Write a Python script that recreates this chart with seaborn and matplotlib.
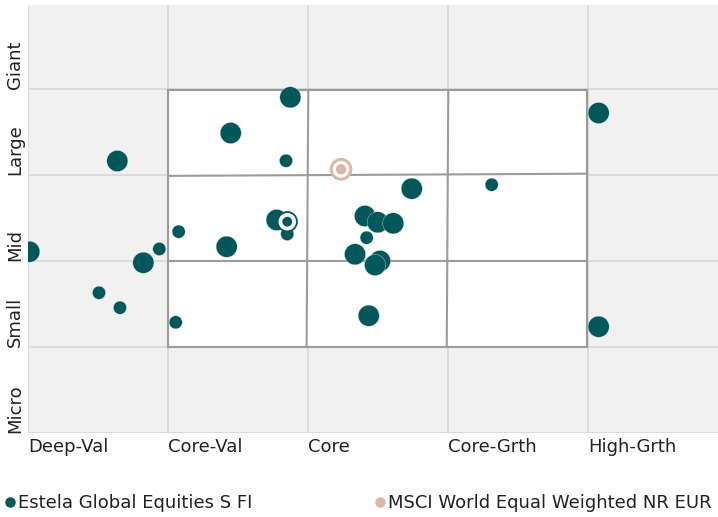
import matplotlib
matplotlib.use("Agg")
import matplotlib.pyplot as plt
from matplotlib.lines import Line2D
from matplotlib.patches import Polygon
import seaborn as sns
import pandas as pd

# ---- data ----
style_labels = ["Deep-Val", "Core-Val", "Core", "Core-Grth", "High-Grth"]
size_labels = ["Micro", "Small", "Mid", "Large", "Giant"]

holding_style = [1.874, 1.448, 1.843, 0.638, 1.776, 1.852, 1.076, 1.419, 0.938,
                 0.009, 0.824, 0.507, 0.657, 1.055, 4.076, 2.741, 3.312, 2.407,
                 2.498, 2.609, 2.419, 2.336, 2.514, 2.479, 2.434, 4.076]
holding_size = [3.903, 3.488, 3.166, 3.163, 2.477, 2.314, 2.341, 2.166, 2.140,
                2.108, 1.980, 1.631, 1.457, 1.287, 3.721, 2.841, 2.887, 2.523,
                2.450, 2.438, 2.271, 2.078, 2.000, 1.953, 1.364, 1.236]
holding_weight = [2, 2, 1, 2, 2, 1, 1, 2, 1,
                  2, 2, 1, 1, 1, 2, 2, 1, 2,
                  2, 2, 1, 2, 2, 2, 2, 2]

fund_name = "Estela Global Equities S FI"
bench_name = "MSCI World Equal Weighted NR EUR"
centroid_style, centroid_size = 1.852, 2.457
bench_style, bench_size = 2.236, 3.066

# style box boundaries (ownership zone grid)
box_v_top = [1.0, 2.002, 3.002, 3.995]
box_v_bottom = [1.0, 1.990, 2.991, 3.995]
box_h_left = [1.0, 2.0, 2.990, 3.990]
box_h_right = [1.0, 2.0, 3.015, 3.990]

# ---- style ----
TEAL = "#00585A"
PINK = "#D8B6A8"
sns.set_style("white")
plt.rcParams["font.family"] = ["DejaVu Sans"]
FS = 13

fig = plt.figure(figsize=(7.18, 5.17), dpi=100)
ax = fig.add_axes([28 / 718, 84 / 517, 690 / 718, 428 / 517])
ax.set_facecolor("#F1F1F1")
ax.set_xlim(0, 690 / 140)
ax.set_ylim(0, 428 / 86)
for sp in ax.spines.values():
    sp.set_visible(False)

ax.set_xticks(range(len(style_labels)))
ax.set_xticklabels(style_labels, ha="left")
ax.set_yticks(range(len(size_labels)))
ax.set_yticklabels(size_labels, rotation=90, va="bottom", ha="center")
ax.tick_params(axis="x", length=0, pad=3.5, labelsize=FS, labelcolor="#222222")
ax.tick_params(axis="y", length=0, pad=9.5, labelsize=FS, labelcolor="#222222")
ax.grid(True, color="#D9D9D9", linewidth=1.3)
ax.set_axisbelow(True)

# white style box
corners = [(box_v_bottom[0], box_h_left[0]), (box_v_bottom[-1], box_h_right[0]),
           (box_v_top[-1], box_h_right[-1]), (box_v_top[0], box_h_left[-1])]
ax.add_patch(Polygon(corners, closed=True, facecolor="white", edgecolor="none", zorder=1))
for xt, xb in zip(box_v_top, box_v_bottom):
    ax.plot([xb, xt], [box_h_left[0], box_h_left[-1]], color="#9B9B9B", lw=1.5, zorder=2,
            solid_capstyle="projecting")
for yl, yr in zip(box_h_left, box_h_right):
    ax.plot([box_v_bottom[0], box_v_bottom[-1]], [yl, yr], color="#9B9B9B", lw=1.5, zorder=2,
            solid_capstyle="projecting")

df = pd.DataFrame({"style": holding_style, "size": holding_size, "weight": holding_weight})
sns.scatterplot(data=df, x="style", y="size", size="weight", sizes={1: 90, 2: 232},
                color=TEAL, edgecolor="#E6EEEE", linewidth=0.25, legend=False, ax=ax,
                zorder=3, clip_on=True)

# benchmark marker
ax.scatter([bench_style], [bench_size], s=265, color=PINK, edgecolor="none", zorder=4)
ax.scatter([bench_style], [bench_size], s=145, color="white", edgecolor="none", zorder=5)
ax.scatter([bench_style], [bench_size], s=56, color=PINK, edgecolor="none", zorder=6)
# fund centroid marker
ax.scatter([centroid_style], [centroid_size], s=232, color=TEAL, edgecolor="none", zorder=4)
ax.scatter([centroid_style], [centroid_size], s=160, color="white", edgecolor="none", zorder=5)
ax.scatter([centroid_style], [centroid_size], s=50, color=TEAL, edgecolor="none", zorder=6)

ax.set_xlabel("")
ax.set_ylabel("")

h1 = Line2D([], [], marker="o", ls="", color=TEAL, markersize=6.5)
h2 = Line2D([], [], marker="o", ls="", color=PINK, markersize=6.5)
common = dict(loc="center left", frameon=False, handlelength=0.65, handletextpad=0.15,
              borderpad=0, borderaxespad=0, fontsize=FS, labelcolor="#222222")
fig.legend([h1], [fund_name], bbox_to_anchor=(4 / 718, 1 - 503 / 517), **common)
fig.legend([h2], [bench_name], bbox_to_anchor=(374 / 718, 1 - 503 / 517), **common)

fig.savefig("out.png", dpi=100, facecolor="white")
